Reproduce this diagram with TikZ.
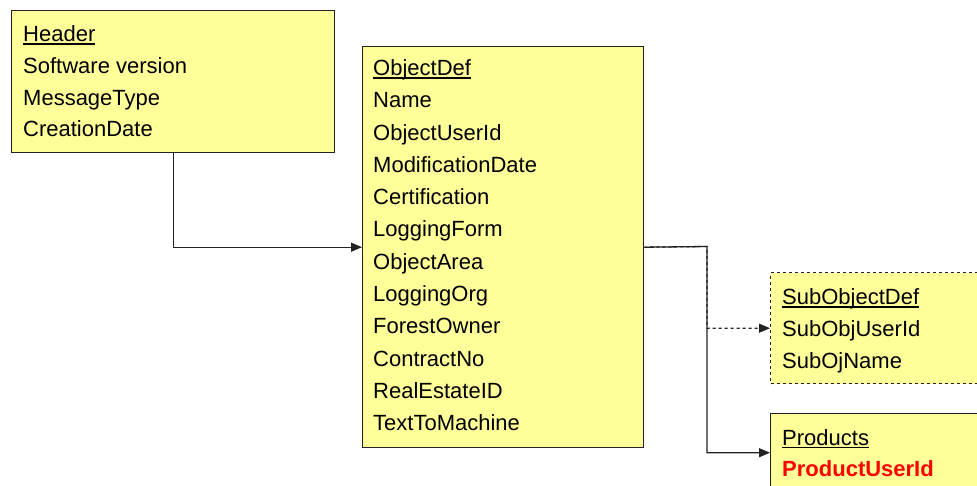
\documentclass[tikz,border=0pt]{standalone}
\usepackage{fontspec}
\setmainfont{Liberation Sans}
\usetikzlibrary{arrows.meta}
\definecolor{boxfill}{HTML}{FFFF99}
\definecolor{linec}{HTML}{222222}
\newcommand\hdr[1]{\setbox0\hbox{#1}\rlap{\rule[-3.2pt]{\wd0}{1.4pt}}\box0}
\tikzset{
  box/.style={draw=linec, fill=boxfill, line width=1.4pt, anchor=north west, inner sep=0pt, rectangle},
  txt/.style={anchor=base west, inner sep=0pt, font=\fontsize{22}{26}\selectfont},
  conn/.style={draw=linec, line width=1.3pt, -{Triangle[length=11pt,width=9pt]}},
}
\begin{document}
\begin{tikzpicture}[x=1pt,y=-1pt]
\useasboundingbox (0,0) rectangle (977,485);
\begin{scope}
\clip (0,0) rectangle (977,485);
\node[box, minimum width=323pt, minimum height=142pt] (header) at (11,10) {};
\node[box, minimum width=281pt, minimum height=401pt] (objdef) at (362,46) {};
\node[box, dashed, minimum width=240pt, minimum height=111pt] (subobj) at (770,272) {};
\node[box, minimum width=240pt, minimum height=78pt] (products) at (770,413) {};

\node[txt] (h0) at (23,41.5) {\hdr{Header}};
\node[txt] (h1) at (23,73.3) {Software version};
\node[txt] (h2) at (23,105.1) {MessageType};
\node[txt] (h3) at (23,136.9) {CreationDate};

\foreach \t [count=\i from 0] in {\hdr{ObjectDef},Name,ObjectUserId,ModificationDate,Certification,LoggingForm,ObjectArea,LoggingOrg,ForestOwner,ContractNo,RealEstateID,TextToMachine}
  \node[txt] (o\i) at (373,75.4+\i*32.3) {\t};

\node[txt] (s0) at (782,304.5) {\hdr{SubObjectDef}};
\node[txt] (s1) at (782,336.3) {SubObjUserId};
\node[txt] (s2) at (782,368.1) {SubOjName};

\node[txt] (p0) at (782,445) {\hdr{Products}};
\node[txt, text=red, font=\fontsize{22}{26}\selectfont\bfseries] (p1) at (782,476) {ProductUserId};

\coordinate (j) at (707,246.5);
\draw[conn, dashed] (objdef.east) -- (j) |- (subobj.west);
\draw[conn] (objdef.east) -- (j) |- (products.west);
\draw[conn] (header.south) |- (objdef.west);
\end{scope}
\end{tikzpicture}
\end{document}
